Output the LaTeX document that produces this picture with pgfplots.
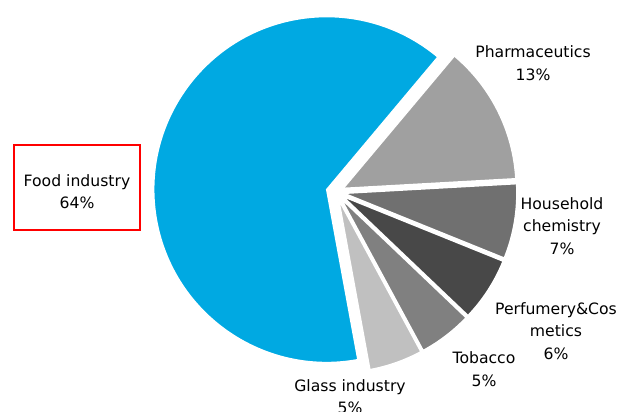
\documentclass[border=0pt]{standalone}
\usepackage{pgfplots}
\pgfplotsset{compat=1.18}
\usepackage{fontspec}
\setmainfont{DejaVu Sans}
\definecolor{cFo}{RGB}{0,169,226}
\definecolor{cPh}{RGB}{160,160,160}
\definecolor{cHo}{RGB}{112,112,112}
\definecolor{cPe}{RGB}{72,72,72}
\definecolor{cTo}{RGB}{128,128,128}
\definecolor{cGl}{RGB}{192,192,192}
\begin{document}
\begin{tikzpicture}
\useasboundingbox (0,0) rectangle (622bp,412bp);
\begin{axis}[width=622bp,height=412bp,scale only axis,
  xmin=0,xmax=622,ymin=0,ymax=412,hide axis,clip=false]
\def\cx{336}\def\cy{220}\def\R{173}
\pgfmathsetmacro\start{50}
\global\let\start\start
% value / colour / explosion offset
\foreach \val/\col/\d in {13/cPh/8, 7/cHo/8, 6/cPe/8, 5/cTo/8, 5/cGl/8, 64/cFo/9.6} {
  \pgfmathsetmacro\sweep{3.6*\val}
  \pgfmathsetmacro\mid{\start-\sweep/2}
  \pgfmathsetmacro\ax{\cx+\d*cos(\mid)}
  \pgfmathsetmacro\ay{\cy+\d*sin(\mid)}
  \pgfmathsetmacro\stop{\start-\sweep}
  \edef\cmd{\noexpand\fill[\col, draw=white, line width=1.5pt, line join=miter]
    (axis cs:\ax,\ay) -- ++(\start:\R bp)
    arc[start angle=\start, end angle=\stop, radius=\R bp] -- cycle;}
  \cmd
  \global\let\start\stop
}
\begin{scope}[every node/.style={align=center, font=\fontsize{15.7}{22.5}\selectfont, text=black}]
\node at (axis cs:533,349) {Pharmaceutics\\13\%};
\node at (axis cs:562,186) {Household\\chemistry\\7\%};
\node at (axis cs:556,81) {Perfumery\&Cos\\metics\\6\%};
\node at (axis cs:484,43) {Tobacco\\5\%};
\node at (axis cs:350,15.5) {Glass industry\\5\%};
\node at (axis cs:77,220.5) {Food industry\\64\%};
\end{scope}
\draw[red, line width=2bp] (axis cs:13.5,182) rectangle (axis cs:139.5,267);
\end{axis}
\end{tikzpicture}
\end{document}
